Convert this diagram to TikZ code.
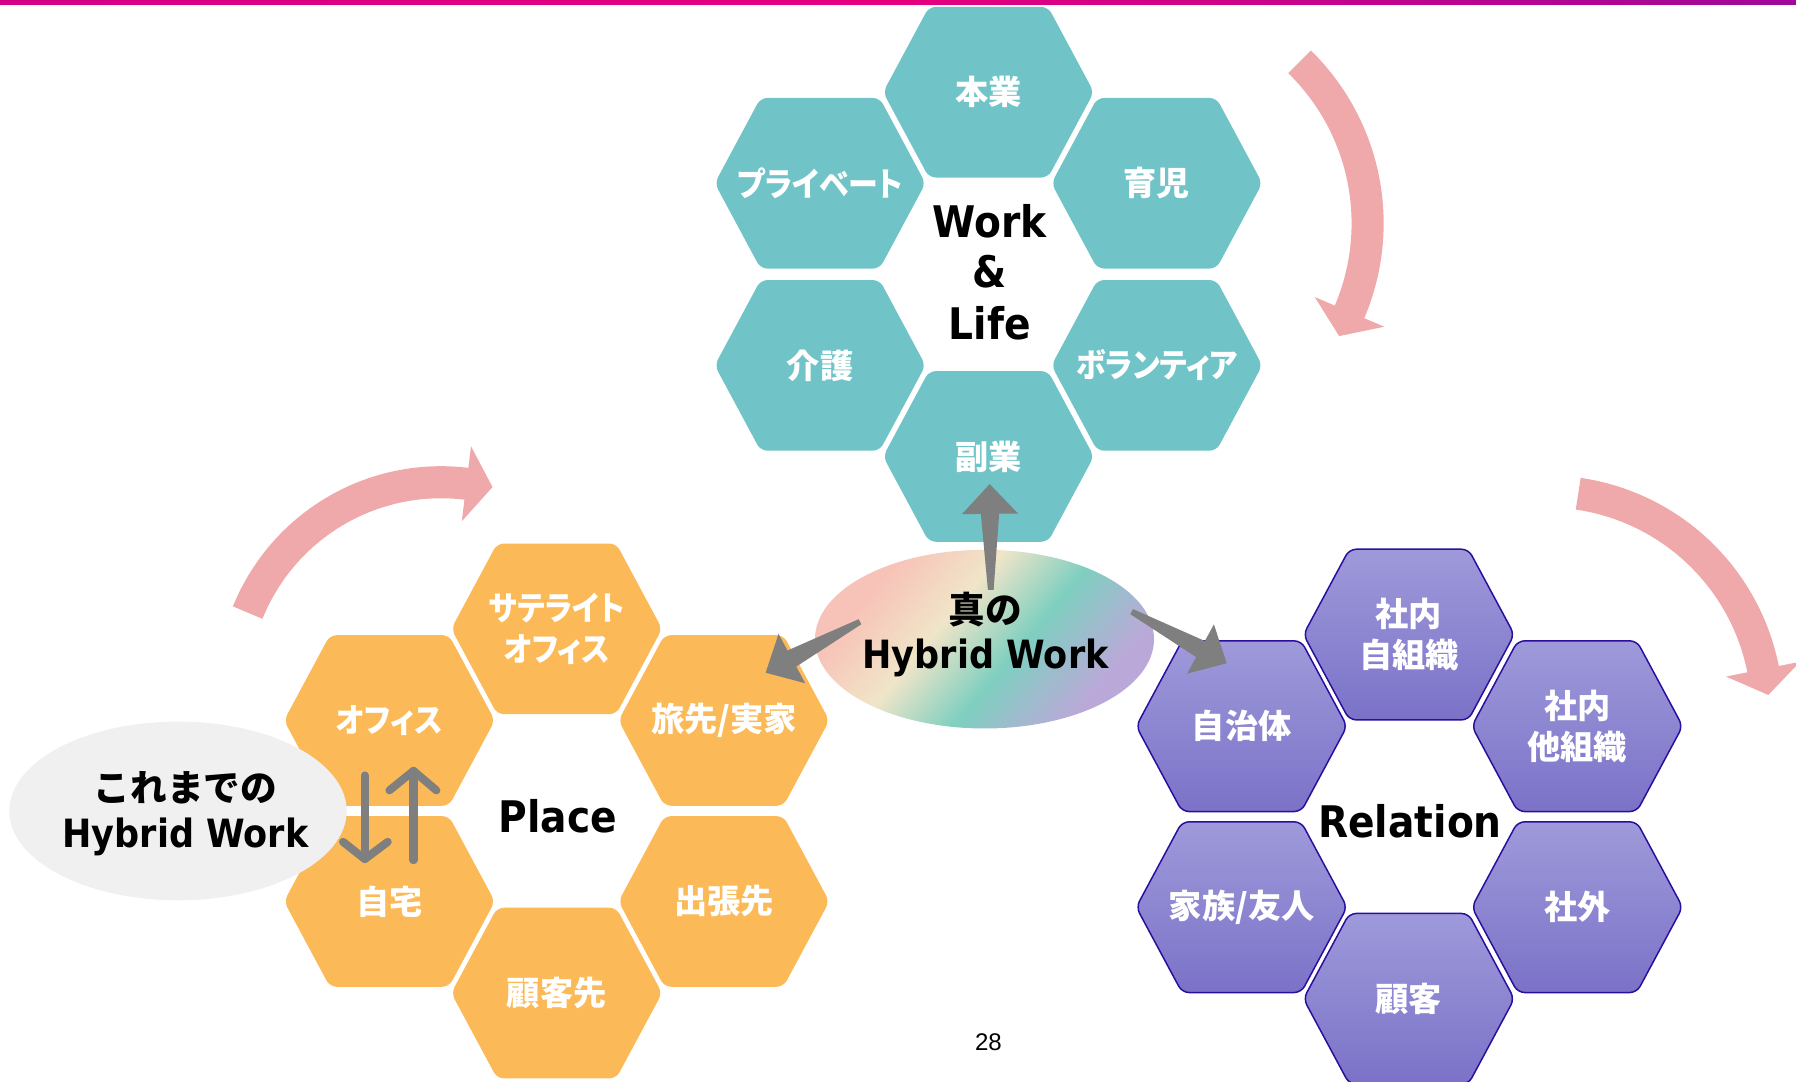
\documentclass[tikz,border=0pt]{standalone}
\usepackage{fontspec}
\usetikzlibrary{calc}
\newfontfamily\jpf{Noto Sans CJK JP}[RawFeature=+palt]
\newfontfamily\jpk{Noto Sans CJK JP}[RawFeature=+palt, FakeStretch=0.9]
\newfontfamily\jpn{Noto Sans CJK JP}
\newfontfamily\latf{DejaVu Sans}[FakeStretch=0.9]
\newfontfamily\arf{Liberation Sans}
\definecolor{tealc}{HTML}{70C4C8}
\definecolor{orangec}{HTML}{FBBA57}
\definecolor{purpT}{HTML}{9E9ADA}
\definecolor{purpB}{HTML}{7B72C8}
\definecolor{purpE}{HTML}{2A0E9E}
\definecolor{pinkc}{HTML}{F0A9AA}
\definecolor{grayc}{HTML}{7F7F7F}
\definecolor{lgray}{HTML}{F0F0F0}
\definecolor{barL}{HTML}{C4008F}
\definecolor{barM}{HTML}{E5007F}
\definecolor{barR}{HTML}{5A10B4}
\definecolor{eP}{HTML}{F7C3B8}
\definecolor{eC}{HTML}{F0E5C8}
\definecolor{eT}{HTML}{7FCFC0}
\definecolor{eL}{HTML}{BAA9D8}
\pgfdeclarehorizontalshading{barshade}{100bp}{color(0bp)=(barL); color(50bp)=(barM); color(100bp)=(barR)}
\pgfdeclarehorizontalshading{hwshade}{100bp}{color(0bp)=(eP); color(28bp)=(eP); color(42bp)=(eC); color(56bp)=(eT); color(72bp)=(eL); color(100bp)=(eL)}
\tikzset{
  hexlabel/.style={font=\jpf\bfseries\fontsize{29}{36}\selectfont, text=white, align=center, inner sep=0pt},
  katalabel/.style={font=\jpk\bfseries\fontsize{29}{36}\selectfont},
  bigtxt/.style={font=\latf\bfseries\fontsize{38}{44}\selectfont, inner sep=0pt},
  hwtxt/.style={font=\latf\bfseries\fontsize{34}{40}\selectfont, inner sep=0pt},
  jptxt/.style={font=\jpn\bfseries\fontsize{32}{38}\selectfont, inner sep=0pt},
  pinkarrow/.style={draw=pinkc, line width=28pt},
  tealhex/.style={fill=tealc},
  orhex/.style={fill=orangec},
  purhex/.style={top color=purpT, bottom color=purpB, draw=purpE, line width=1.3pt},
  thinarrow/.style={draw=grayc, line width=7pt, line cap=round, line join=round},
}
\newcommand\hexat[5][]{%
  \path[#4, rounded corners=6pt] (#3) ++(-92,0) -- ++(40,-74.5) -- ++(104,0) -- ++(40,74.5) -- ++(-40,74.5) -- ++(-104,0) -- cycle;
  \node[hexlabel, #1] (#2) at (#3) {#5};}
\newcommand\garrow[3]{%
  \fill[grayc, shift={(#1)}, rotate=#2] (0,2.5) -- (#3-26,8) -- (#3-26,24.5) -- (#3,0) -- (#3-26,-24.5) -- (#3-26,-8) -- (0,-2.5) -- cycle;}
\begin{document}
\begin{tikzpicture}[x=1pt, y=-1pt]
\useasboundingbox (0,0) rectangle (1568,944);
\clip (0,0) rectangle (1568,944);
% top bar
\shade[shading=barshade] (0,0) rectangle (1568,4);
% pink curved arrows
\begin{scope}[shift={(997,195)}]
  \draw[pinkarrow] plot[domain=-45.7:23.6, samples=60] (\x:197);
  \fill[pinkc] (23.1:230) -- (29.76:198.3) -- (23.1:164) -- cycle;
\end{scope}
\begin{scope}[shift={(385,603)}]
  \draw[pinkarrow] plot[domain=-158:-82.5, samples=60] (\x:182);
  \fill[pinkc] (-83:215) -- (-75.8:183.4) -- (-83:149) -- cycle;
\end{scope}
\begin{scope}[shift={(1350,622)}]
  \draw[pinkarrow] plot[domain=-81.7:-10.8, samples=60] (\x:193);
  \fill[pinkc] (-11.3:226) -- (-4.5:194.4) -- (-11.3:160) -- cycle;
\end{scope}
% central ellipse
\shade[shading=hwshade, shading angle=-40] (859.5,558) ellipse [x radius=148, y radius=78];
% Work & Life hexes
\hexat{honq}{863,80.5}{tealhex}{本業}
\hexat[katalabel]{priv}{716,160}{tealhex}{プライベート}
\hexat{ikuji}{1010,160}{tealhex}{育児}
\hexat{kaigo}{716,319}{tealhex}{介護}
\hexat[katalabel]{vol}{1010,319}{tealhex}{ボランティア}
\hexat{fuku}{863,398.5}{tealhex}{副業}
% Place hexes
\hexat[katalabel]{sat}{486,549}{orhex}{サテライト\\オフィス}
\hexat[katalabel]{off}{340,629}{orhex}{オフィス}
\hexat{tabi}{632,629}{orhex}{旅先/実家}
\hexat{jitaku}{340,787}{orhex}{自宅}
\hexat{shutcho}{632,787}{orhex}{出張先}
\hexat{kokyakusaki}{486,867}{orhex}{顧客先}
% Relation hexes
\hexat{jisoshiki}{1230,554}{purhex}{社内\\自組織}
\hexat{jichitai}{1084,634}{purhex}{自治体}
\hexat{tasoshiki}{1377,634}{purhex}{社内\\他組織}
\hexat{kazoku}{1084,792}{purhex}{家族/友人}
\hexat{shagai}{1377,792}{purhex}{社外}
\hexat{kokyaku}{1230,872}{purhex}{顧客}
% gray tapered arrows from the centre
\coordinate (upS) at (865,515);
\coordinate (leftS) at (750.8,542.8);
\coordinate (rightS) at (988,534);
\garrow{upS}{90.6}{92.4}
\garrow{leftS}{-151.6}{93.6}
\garrow{rightS}{-28.5}{94.4}
% left ellipse
\fill[lgray] (155.4,708) ellipse [x radius=147.3, y radius=78];
% small double arrows
\coordinate (dnA) at (318.5,677);
\coordinate (dnB) at (318.5,750);
\coordinate (upA) at (361,751);
\coordinate (upB) at (361,673);
\draw[thinarrow] (dnA) -- (dnB);
\draw[thinarrow] ($(dnB)+(-19,-15)$) -- (dnB) -- ($(dnB)+(20,-15)$);
\draw[thinarrow] (upA) -- (upB);
\draw[thinarrow] ($(upB)+(-21,17)$) -- (upB) -- ($(upB)+(20,17)$);
% texts
\node[bigtxt, anchor=base] (work) at (864,207) {Work};
\node[bigtxt, anchor=base] (amp) at (864,251) {\&};
\node[bigtxt, anchor=base] (life) at (864,296) {Life};
\node[bigtxt, anchor=base] (place) at (487,727) {Place};
\node[bigtxt, anchor=base] (relation) at (1231,731) {Relation};
\node[jptxt] (shin) at (860,532.5) {真の};
\node[hwtxt, anchor=base] (hw) at (860.5,584) {Hybrid Work};
\node[jptxt] (kore) at (162,688) {これまでの};
\node[hwtxt, anchor=base] (hwold) at (162,739.5) {Hybrid Work};
\node[font=\arf\fontsize{21}{25}\selectfont, anchor=base, inner sep=0pt] (page) at (863,917.5) {28};
\end{tikzpicture}
\end{document}
